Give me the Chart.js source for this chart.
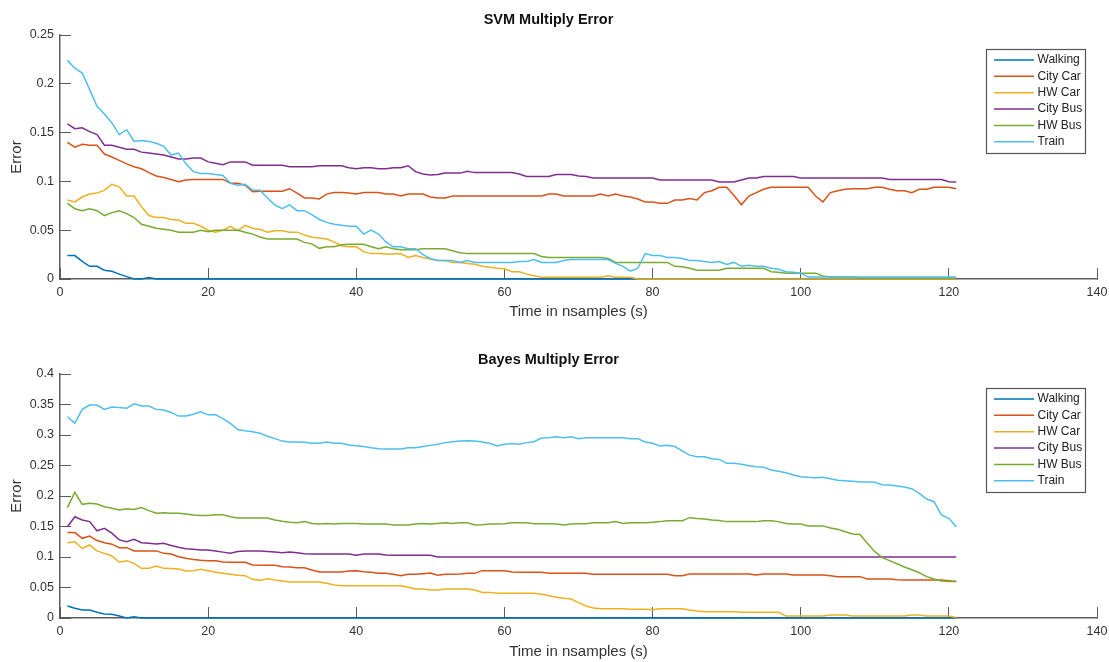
<!DOCTYPE html>
<html>
<head>
<meta charset="utf-8">
<title>Multiply Error</title>
<script src="https://cdn.jsdelivr.net/npm/chart.js@4.4.1/dist/chart.umd.min.js"></script>
<style>
  html, body { margin: 0; padding: 0; background: #fff; overflow: hidden; }
  .plot { position: absolute; left: 0; width: 1109px; height: 331px; }
</style>
</head>
<body>
<div class="plot" style="top:0"><canvas id="svmChart"></canvas></div>
<div class="plot" style="top:331px"><canvas id="bayesChart"></canvas></div>
<script>
// sample index (1 s per sample)
const samples = Array.from({ length: 121 }, (_, i) => i + 1);

const seriesNames = ["Walking", "City Car", "HW Car", "City Bus", "HW Bus", "Train"];
const seriesColors = ["#0072BD", "#D95319", "#EDB120", "#7E2F8E", "#77AC30", "#4DBEEE"];

const xTicks = [0, 20, 40, 60, 80, 100, 120, 140];
const svmYTicks = [0, 0.05, 0.1, 0.15, 0.2, 0.25];
const bayesYTicks = [0, 0.05, 0.1, 0.15, 0.2, 0.25, 0.3, 0.35, 0.4];

// ---- SVM ----
const svmWalking = [
  0.024, 0.024, 0.018, 0.013, 0.013, 0.009, 0.008, 0.005, 0.0024, 0,
  0, 0.0014, 0, 0, 0, 0, 0, 0, 0, 0,
  0, 0, 0, 0, 0, 0, 0, 0, 0, 0,
  0, 0, 0, 0, 0, 0, 0, 0, 0, 0,
  0, 0, 0, 0, 0, 0, 0, 0, 0, 0,
  0, 0, 0, 0, 0, 0, 0, 0, 0, 0,
  0, 0, 0, 0, 0, 0, 0, 0, 0, 0,
  0, 0, 0, 0, 0, 0, 0, 0, 0, 0,
  0, 0, 0, 0, 0, 0, 0, 0, 0, 0,
  0, 0, 0, 0, 0, 0, 0, 0, 0, 0,
  0, 0, 0, 0, 0, 0, 0, 0, 0, 0,
  0, 0, 0, 0, 0, 0, 0, 0, 0, 0,
  0
];
const svmCityCar = [
  0.140, 0.135, 0.138, 0.137, 0.137, 0.128, 0.125, 0.1215, 0.118, 0.115,
  0.113, 0.109, 0.1055, 0.104, 0.102, 0.0997, 0.1015, 0.102, 0.102, 0.102,
  0.102, 0.102, 0.098, 0.098, 0.096, 0.0895, 0.090, 0.090, 0.090, 0.090,
  0.0925, 0.088, 0.083, 0.083, 0.082, 0.087, 0.0885, 0.0885, 0.088, 0.087,
  0.0885, 0.0885, 0.0885, 0.087, 0.087, 0.085, 0.087, 0.087, 0.087, 0.084,
  0.083, 0.083, 0.085, 0.085, 0.085, 0.085, 0.085, 0.085, 0.085, 0.085,
  0.085, 0.085, 0.085, 0.085, 0.085, 0.087, 0.087, 0.085, 0.085, 0.085,
  0.085, 0.085, 0.087, 0.085, 0.087, 0.085, 0.084, 0.082, 0.079, 0.079,
  0.0775, 0.0775, 0.081, 0.081, 0.0825, 0.081, 0.0885, 0.0905, 0.094, 0.094,
  0.0855, 0.076, 0.085, 0.0885, 0.092, 0.094, 0.094, 0.094, 0.094, 0.094,
  0.094, 0.085, 0.079, 0.0885, 0.0905, 0.092, 0.0925, 0.0925, 0.0925, 0.094,
  0.094, 0.092, 0.0905, 0.0905, 0.0885, 0.092, 0.092, 0.094, 0.094, 0.094,
  0.0925
];
const svmHWCar = [
  0.081, 0.079, 0.084, 0.087, 0.088, 0.091, 0.097, 0.0945, 0.085, 0.085,
  0.074, 0.065, 0.063, 0.063, 0.061, 0.0605, 0.057, 0.057, 0.054, 0.050,
  0.048, 0.050, 0.054, 0.0495, 0.055, 0.052, 0.051, 0.048, 0.0495, 0.0495,
  0.048, 0.048, 0.045, 0.0427, 0.042, 0.041, 0.038, 0.034, 0.033, 0.033,
  0.028, 0.026, 0.026, 0.0256, 0.0256, 0.026, 0.022, 0.024, 0.022, 0.0205,
  0.019, 0.019, 0.017, 0.017, 0.016, 0.015, 0.013, 0.012, 0.011, 0.0106,
  0.0075, 0.0075, 0.005, 0.0034, 0.0017, 0.0017, 0.0017, 0.0017, 0.0017, 0.0017,
  0.0017, 0.0017, 0.0017, 0.0034, 0.0017, 0.0017, 0.0017, 0, 0, 0,
  0, 0, 0, 0, 0, 0, 0, 0, 0, 0,
  0, 0, 0, 0, 0, 0, 0, 0, 0, 0,
  0, 0, 0, 0, 0, 0, 0, 0, 0, 0,
  0, 0, 0, 0, 0, 0, 0, 0, 0, 0,
  0
];
const svmCityBus = [
  0.159, 0.154, 0.155, 0.151, 0.148, 0.137, 0.137, 0.135, 0.133, 0.133,
  0.130, 0.129, 0.128, 0.127, 0.125, 0.123, 0.123, 0.124, 0.124, 0.120,
  0.1185, 0.117, 0.120, 0.120, 0.120, 0.1165, 0.1165, 0.1165, 0.1165, 0.1165,
  0.115, 0.115, 0.115, 0.115, 0.116, 0.116, 0.116, 0.116, 0.114, 0.113,
  0.114, 0.114, 0.113, 0.113, 0.114, 0.114, 0.116, 0.110, 0.1075, 0.1065,
  0.107, 0.1085, 0.1085, 0.1085, 0.1105, 0.109, 0.109, 0.109, 0.109, 0.109,
  0.109, 0.1075, 0.105, 0.105, 0.105, 0.105, 0.107, 0.107, 0.107, 0.1055,
  0.105, 0.1035, 0.1035, 0.1035, 0.1035, 0.1035, 0.1035, 0.1035, 0.1035, 0.1035,
  0.1015, 0.1015, 0.1015, 0.1015, 0.1015, 0.1015, 0.1015, 0.1015, 0.0994, 0.0994,
  0.0994, 0.1015, 0.1035, 0.1035, 0.105, 0.105, 0.105, 0.105, 0.105, 0.1035,
  0.1035, 0.1035, 0.1035, 0.1035, 0.1035, 0.1035, 0.1035, 0.1035, 0.1035, 0.1035,
  0.1035, 0.102, 0.102, 0.102, 0.102, 0.102, 0.102, 0.102, 0.102, 0.0997,
  0.0994
];
const svmHWBus = [
  0.0775, 0.072, 0.070, 0.072, 0.070, 0.065, 0.068, 0.070, 0.067, 0.063,
  0.056, 0.054, 0.052, 0.051, 0.050, 0.048, 0.048, 0.048, 0.050, 0.0485,
  0.050, 0.050, 0.050, 0.050, 0.048, 0.046, 0.043, 0.041, 0.041, 0.041,
  0.041, 0.041, 0.0375, 0.036, 0.0314, 0.033, 0.033, 0.035, 0.0355, 0.0355,
  0.0355, 0.033, 0.031, 0.033, 0.031, 0.030, 0.030, 0.030, 0.031, 0.031,
  0.031, 0.031, 0.029, 0.027, 0.026, 0.026, 0.026, 0.026, 0.026, 0.026,
  0.026, 0.026, 0.026, 0.026, 0.023, 0.022, 0.022, 0.022, 0.022, 0.022,
  0.022, 0.022, 0.022, 0.021, 0.017, 0.017, 0.017, 0.017, 0.017, 0.017,
  0.017, 0.017, 0.013, 0.0126, 0.011, 0.009, 0.009, 0.009, 0.009, 0.011,
  0.011, 0.011, 0.011, 0.011, 0.011, 0.0075, 0.007, 0.006, 0.006, 0.006,
  0.006, 0.006, 0.003, 0.002, 0.002, 0.002, 0.002, 0.001, 0.001, 0.001,
  0.001, 0.001, 0.001, 0.001, 0.001, 0.001, 0.001, 0.001, 0.001, 0.001,
  0.001
];
const svmTrain = [
  0.224, 0.216, 0.211, 0.194, 0.177, 0.169, 0.160, 0.148, 0.153, 0.141,
  0.142, 0.141, 0.139, 0.136, 0.127, 0.129, 0.118, 0.110, 0.108, 0.108,
  0.107, 0.106, 0.098, 0.096, 0.097, 0.091, 0.091, 0.083, 0.076, 0.072,
  0.076, 0.070, 0.070, 0.066, 0.061, 0.058, 0.056, 0.055, 0.054, 0.054,
  0.046, 0.050, 0.046, 0.038, 0.033, 0.033, 0.031, 0.031, 0.025, 0.021,
  0.019, 0.019, 0.019, 0.017, 0.019, 0.017, 0.017, 0.017, 0.017, 0.017,
  0.017, 0.018, 0.018, 0.020, 0.017, 0.017, 0.017, 0.019, 0.020, 0.020,
  0.020, 0.020, 0.020, 0.020, 0.016, 0.013, 0.008, 0.011, 0.026, 0.024,
  0.024, 0.022, 0.022, 0.021, 0.019, 0.019, 0.018, 0.017, 0.018, 0.015,
  0.017, 0.013, 0.014, 0.013, 0.013, 0.011, 0.010, 0.0075, 0.007, 0.006,
  0.002, 0.002, 0.002, 0.002, 0.002, 0.002, 0.002, 0.002, 0.002, 0.002,
  0.002, 0.002, 0.002, 0.002, 0.002, 0.002, 0.002, 0.002, 0.002, 0.002,
  0.002
];

// ---- Bayes ----
const bayesWalking = [
  0.0197, 0.016, 0.013, 0.013, 0.0093, 0.0066, 0.006, 0.0033, 0, 0.0022,
  0, 0, 0, 0, 0, 0, 0, 0, 0, 0,
  0, 0, 0, 0, 0, 0, 0, 0, 0, 0,
  0, 0, 0, 0, 0, 0, 0, 0, 0, 0,
  0, 0, 0, 0, 0, 0, 0, 0, 0, 0,
  0, 0, 0, 0, 0, 0, 0, 0, 0, 0,
  0, 0, 0, 0, 0, 0, 0, 0, 0, 0,
  0, 0, 0, 0, 0, 0, 0, 0, 0, 0,
  0, 0, 0, 0, 0, 0, 0, 0, 0, 0,
  0, 0, 0, 0, 0, 0, 0, 0, 0, 0,
  0, 0, 0, 0, 0, 0, 0, 0, 0, 0,
  0, 0, 0, 0, 0, 0, 0, 0, 0, 0,
  0
];
const bayesCityCar = [
  0.140, 0.140, 0.1306, 0.1344, 0.127, 0.1235, 0.121, 0.1153, 0.1153, 0.110,
  0.110, 0.110, 0.110, 0.106, 0.105, 0.1005, 0.098, 0.096, 0.0945, 0.094,
  0.094, 0.092, 0.0913, 0.0913, 0.0913, 0.087, 0.0863, 0.0863, 0.0863, 0.084,
  0.0836, 0.0825, 0.0825, 0.0787, 0.0754, 0.0754, 0.0754, 0.0754, 0.077, 0.0776,
  0.076, 0.0749, 0.0732, 0.0732, 0.0716, 0.0694, 0.0716, 0.0716, 0.0727, 0.0738,
  0.070, 0.0716, 0.0716, 0.0721, 0.0732, 0.0732, 0.0776, 0.0776, 0.0776, 0.0776,
  0.0754, 0.0749, 0.0749, 0.0749, 0.0749, 0.0732, 0.0732, 0.0732, 0.0732, 0.0732,
  0.0732, 0.0716, 0.0716, 0.0716, 0.0716, 0.0716, 0.0716, 0.0716, 0.0716, 0.0716,
  0.0716, 0.0716, 0.0694, 0.0694, 0.0721, 0.0721, 0.0721, 0.0721, 0.0721, 0.0721,
  0.0721, 0.0721, 0.0721, 0.0705, 0.0721, 0.0721, 0.0721, 0.0721, 0.0705, 0.0705,
  0.0705, 0.0705, 0.0705, 0.0694, 0.0678, 0.0678, 0.0678, 0.0678, 0.064, 0.064,
  0.064, 0.064, 0.0628, 0.0623, 0.0623, 0.0623, 0.0623, 0.0623, 0.0623, 0.0612,
  0.060
];
const bayesHWCar = [
  0.1235, 0.125, 0.114, 0.1197, 0.110, 0.106, 0.1016, 0.0913, 0.094, 0.0896,
  0.0814, 0.0814, 0.0852, 0.0814, 0.081, 0.0803, 0.077, 0.0776, 0.0798, 0.0776,
  0.0749, 0.0732, 0.0716, 0.070, 0.0694, 0.0634, 0.0617, 0.0645, 0.0623, 0.0607,
  0.059, 0.059, 0.059, 0.059, 0.059, 0.0568, 0.054, 0.053, 0.053, 0.053,
  0.053, 0.053, 0.053, 0.053, 0.053, 0.053, 0.0503, 0.0475, 0.0475, 0.0459,
  0.0459, 0.0475, 0.0475, 0.0475, 0.0475, 0.0459, 0.042, 0.042, 0.0404, 0.0404,
  0.0404, 0.0404, 0.0404, 0.0404, 0.0388, 0.0366, 0.0339, 0.0322, 0.0311, 0.0251,
  0.0197, 0.0164, 0.0153, 0.0153, 0.0153, 0.0153, 0.0142, 0.0142, 0.0142, 0.0137,
  0.0153, 0.0153, 0.0153, 0.0153, 0.013, 0.0115, 0.0104, 0.0104, 0.0104, 0.0104,
  0.0104, 0.0093, 0.0093, 0.0093, 0.0093, 0.0093, 0.0093, 0.0033, 0.0033, 0.0033,
  0.0033, 0.0033, 0.0033, 0.005, 0.005, 0.005, 0.0033, 0.0033, 0.0033, 0.0033,
  0.0033, 0.0033, 0.0033, 0.0033, 0.005, 0.005, 0.0033, 0.0033, 0.0033, 0.0033,
  0.001
];
const bayesCityBus = [
  0.1497, 0.166, 0.1607, 0.158, 0.143, 0.147, 0.139, 0.128, 0.125, 0.129,
  0.1235, 0.1224, 0.1213, 0.1224, 0.119, 0.116, 0.1137, 0.1126, 0.1115, 0.1115,
  0.110, 0.108, 0.106, 0.109, 0.110, 0.110, 0.110, 0.109, 0.108, 0.107,
  0.108, 0.107, 0.1055, 0.105, 0.105, 0.105, 0.105, 0.105, 0.105, 0.103,
  0.105, 0.105, 0.105, 0.1033, 0.1027, 0.1027, 0.1027, 0.1027, 0.1027, 0.1027,
  0.1, 0.1, 0.1, 0.1, 0.1, 0.1, 0.1, 0.1, 0.1, 0.1,
  0.1, 0.1, 0.1, 0.1, 0.1, 0.1, 0.1, 0.1, 0.1, 0.1,
  0.1, 0.1, 0.1, 0.1, 0.1, 0.1, 0.1, 0.1, 0.1, 0.1,
  0.1, 0.1, 0.1, 0.1, 0.1, 0.1, 0.1, 0.1, 0.1, 0.1,
  0.1, 0.1, 0.1, 0.1, 0.1, 0.1, 0.1, 0.1, 0.1, 0.1,
  0.1, 0.1, 0.1, 0.1, 0.1, 0.1, 0.1, 0.1, 0.1, 0.1,
  0.1, 0.1, 0.1, 0.1, 0.1, 0.1, 0.1, 0.1, 0.1, 0.1,
  0.1
];
const bayesHWBus = [
  0.181, 0.206, 0.1863, 0.188, 0.187, 0.1825, 0.180, 0.177, 0.179, 0.178,
  0.181, 0.176, 0.1716, 0.1727, 0.1716, 0.1716, 0.1705, 0.169, 0.168, 0.168,
  0.1694, 0.1694, 0.166, 0.164, 0.164, 0.164, 0.164, 0.164, 0.1607, 0.1585,
  0.157, 0.1563, 0.158, 0.155, 0.154, 0.155, 0.154, 0.155, 0.155, 0.155,
  0.154, 0.154, 0.154, 0.154, 0.1525, 0.1525, 0.1525, 0.154, 0.155, 0.154,
  0.155, 0.156, 0.155, 0.156, 0.156, 0.1525, 0.153, 0.154, 0.154, 0.1545,
  0.156, 0.156, 0.156, 0.1545, 0.1545, 0.1545, 0.154, 0.1525, 0.154, 0.1545,
  0.1545, 0.156, 0.156, 0.156, 0.158, 0.155, 0.156, 0.156, 0.156, 0.157,
  0.158, 0.1596, 0.1596, 0.1596, 0.1645, 0.163, 0.1623, 0.1607, 0.160, 0.158,
  0.158, 0.158, 0.158, 0.158, 0.1596, 0.1596, 0.158, 0.155, 0.154, 0.154,
  0.151, 0.151, 0.151, 0.1475, 0.1454, 0.1415, 0.1377, 0.137, 0.1224, 0.1087,
  0.099, 0.094, 0.089, 0.0836, 0.079, 0.0743, 0.0678, 0.064, 0.0607, 0.060,
  0.060
];
const bayesTrain = [
  0.330, 0.319, 0.342, 0.349, 0.349, 0.342, 0.346, 0.345, 0.344, 0.351,
  0.3475, 0.3475, 0.342, 0.341, 0.337, 0.331, 0.331, 0.334, 0.338, 0.333,
  0.333, 0.327, 0.319, 0.309, 0.307, 0.3055, 0.303, 0.298, 0.294, 0.290,
  0.2885, 0.2885, 0.288, 0.2865, 0.2865, 0.2885, 0.2865, 0.2865, 0.2835, 0.2825,
  0.281, 0.279, 0.2775, 0.277, 0.277, 0.277, 0.279, 0.279, 0.281, 0.283,
  0.285, 0.2875, 0.289, 0.290, 0.2905, 0.290, 0.2885, 0.2865, 0.282, 0.285,
  0.286, 0.285, 0.2875, 0.289, 0.295, 0.2955, 0.297, 0.2955, 0.297, 0.294,
  0.2955, 0.2955, 0.2955, 0.2955, 0.2955, 0.2955, 0.294, 0.294, 0.2885, 0.2865,
  0.282, 0.283, 0.281, 0.274, 0.267, 0.2645, 0.2645, 0.261, 0.260, 0.2535,
  0.2535, 0.252, 0.2497, 0.248, 0.247, 0.2426, 0.2404, 0.238, 0.2344, 0.2317,
  0.2306, 0.230, 0.2306, 0.2284, 0.226, 0.225, 0.224, 0.223, 0.223, 0.2224,
  0.2186, 0.218, 0.2164, 0.2148, 0.212, 0.2044, 0.195, 0.1907, 0.1689, 0.1634,
  0.1497
];

const FONT = '"Liberation Sans", Arial, Helvetica, sans-serif';
const axisColor = "#5c5c5c";
const textColor = "#333333";

Chart.defaults.font.family = FONT;

// bordered legend in the upper right corner of the plot area
const boxLegend = {
  id: "boxLegend",
  afterDatasetsDraw(chart) {
    const { ctx, chartArea } = chart;
    const w = 99, h = 104;
    const left = chartArea.right - 111;
    const top = chartArea.top + 14;
    ctx.save();
    ctx.fillStyle = "#ffffff";
    ctx.fillRect(left, top, w, h);
    ctx.strokeStyle = "#555555";
    ctx.lineWidth = 1.2;
    ctx.strokeRect(left + 0.5, top + 0.5, w, h);
    ctx.font = "12px " + FONT;
    ctx.textBaseline = "middle";
    chart.data.datasets.forEach((ds, i) => {
      const y = top + 11 + i * 16.35;
      ctx.strokeStyle = ds.borderColor;
      ctx.lineWidth = 1.5;
      ctx.beginPath();
      ctx.moveTo(left + 8, y);
      ctx.lineTo(left + 48, y);
      ctx.stroke();
      ctx.fillStyle = "#222222";
      ctx.fillText(ds.label, left + 51.5, y);
    });
    ctx.restore();
  }
};

function makeChart(id, title, series, yTicks, box) {
  const datasets = seriesNames.map((name, i) => ({
    label: name,
    data: series[i].map((v, j) => ({ x: samples[j], y: v })),
    borderColor: seriesColors[i],
    backgroundColor: seriesColors[i],
    borderWidth: 1.5,
    pointRadius: 0,
    tension: 0,
    clip: false,
    order: seriesNames.length - i
  }));

  return new Chart(document.getElementById(id), {
    type: "line",
    data: { datasets },
    plugins: [boxLegend],
    options: {
      responsive: true,
      maintainAspectRatio: false,
      animation: false,
      events: [],
      layout: { padding: { left: 0, right: 12, top: 0, bottom: 0 } },
      plugins: {
        legend: { display: false },
        tooltip: { enabled: false },
        title: {
          display: true,
          text: title,
          color: "#111111",
          font: { size: 14.5, weight: "bold" },
          padding: { top: box.titleTop, bottom: box.titleBottom }
        }
      },
      scales: {
        x: {
          type: "linear",
          min: xTicks[0],
          max: xTicks[xTicks.length - 1],
          afterBuildTicks: (s) => { s.ticks = xTicks.map((v) => ({ value: v })); },
          ticks: { padding: 17.5, color: textColor, font: { size: 12.5 }, maxRotation: 0, autoSkip: false },
          grid: { drawOnChartArea: false, tickLength: -11, color: axisColor, lineWidth: 1 },
          border: { color: axisColor, width: 1.5 },
          title: {
            display: true,
            text: "Time in nsamples (s)",
            color: textColor,
            font: { size: 15 },
            padding: { top: 0, bottom: box.xTitleBottom }
          },
          afterFit: (s) => {
            s.height = box.axisHeight;
            s.paddingLeft = 0;
            s.paddingRight = 0;
          }
        },
        y: {
          min: yTicks[0],
          max: yTicks[yTicks.length - 1],
          afterBuildTicks: (s) => { s.ticks = yTicks.map((v) => ({ value: v })); },
          ticks: { padding: 17, color: textColor, font: { size: 12.5 }, callback: (v) => String(+v.toFixed(2)) },
          grid: { drawOnChartArea: false, tickLength: -11, color: axisColor, lineWidth: 1 },
          border: { color: axisColor, width: 1.5 },
          title: {
            display: true,
            text: "Error",
            color: textColor,
            font: { size: 15 },
            padding: { top: 8, bottom: 0 }
          },
          afterFit: (s) => {
            s.width = 60;
            s.paddingTop = 0;
            s.paddingBottom = 0;
          }
        }
      }
    }
  });
}

makeChart("svmChart", "SVM Multiply Error",
  [svmWalking, svmCityCar, svmHWCar, svmCityBus, svmHWBus, svmTrain],
  svmYTicks,
  { titleTop: 11.3, titleBottom: 6.3, axisHeight: 52, xTitleBottom: 10 });

makeChart("bayesChart", "Bayes Multiply Error",
  [bayesWalking, bayesCityCar, bayesHWCar, bayesCityBus, bayesHWBus, bayesTrain],
  bayesYTicks,
  { titleTop: 20.3, titleBottom: 5.3, axisHeight: 44, xTitleBottom: 1 });
</script>
</body>
</html>
